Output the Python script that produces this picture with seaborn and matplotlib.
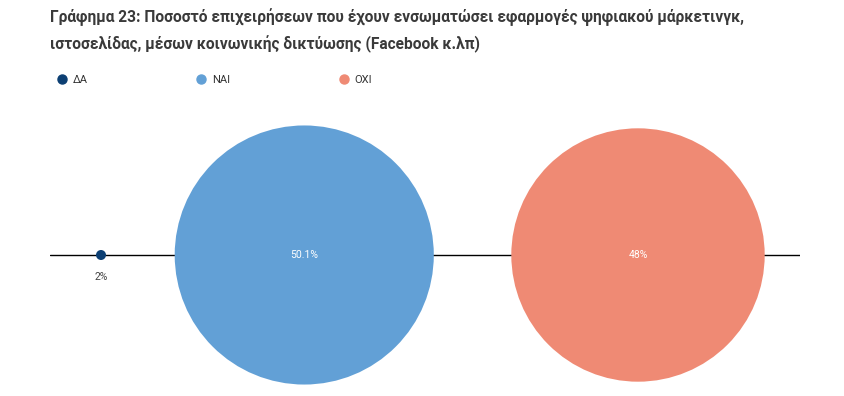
import matplotlib
matplotlib.use("Agg")
import matplotlib.pyplot as plt
from matplotlib.lines import Line2D
import seaborn as sns
import pandas as pd

# Δεδομένα
categories = ["ΔΑ", "ΝΑΙ", "ΟΧΙ"]
values = [2.0, 50.1, 48.0]
labels = ["2%", "50.1%", "48%"]
x_pos = [6.8, 33.9, 78.4]
colors = ["#0c3f73", "#62a0d6", "#ef8a74"]

title = ("Γράφημα 23: Ποσοστό επιχειρήσεων που έχουν ενσωματώσει εφαρμογές ψηφιακού μάρκετινγκ,\n"
         "ιστοσελίδας, μέσων κοινωνικής δικτύωσης (Facebook κ.λπ)")

df = pd.DataFrame({"cat": categories, "val": values, "x": x_pos, "y": [0, 0, 0]})

sns.set_theme(style="white")
plt.rcParams['font.family'] = ['Roboto', 'DejaVu Sans']

fig = plt.figure(figsize=(8.44, 3.96), dpi=100)
ax = fig.add_axes([50 / 844, 0, 750 / 844, 296 / 396])

ax.axhline(0, color="black", linewidth=1.0, zorder=1)

sns.scatterplot(data=df, x="x", y="y", hue="cat", palette=colors, size="val",
                sizes=(52, 34800), legend=False, linewidth=0, ax=ax,
                zorder=2, clip_on=False)

ax.set_xlim(0, 100)
ax.set_ylim(-141, 155)
ax.axis("off")

# Ετικέτες τιμών
for i, row in df.iterrows():
    if row["val"] < 10:
        ax.annotate(labels[i], (row["x"], 0), xytext=(0, -16), textcoords="offset points",
                    ha="center", va="center", fontsize=7.5, color="#444444")
    else:
        ax.text(row["x"], 0, labels[i], ha="center", va="center",
                fontsize=7.5, color="white")

# Υπόμνημα
handles = [Line2D([], [], marker="o", linestyle="", markersize=6.5, color=c) for c in colors]
fig.legend(handles, categories, loc="upper left", bbox_to_anchor=(46 / 844, 1 - 65 / 396),
           ncol=3, frameon=False, fontsize=8, handletextpad=0.5, columnspacing=9.7,
           handlelength=1.0, labelcolor="#333333")

fig.text(50 / 844, 1 - 8 / 396, title, ha="left", va="top", fontsize=11.2,
         fontweight="bold", color="#3a3a3a", linespacing=1.7)

plt.savefig("out.png", dpi=100)
